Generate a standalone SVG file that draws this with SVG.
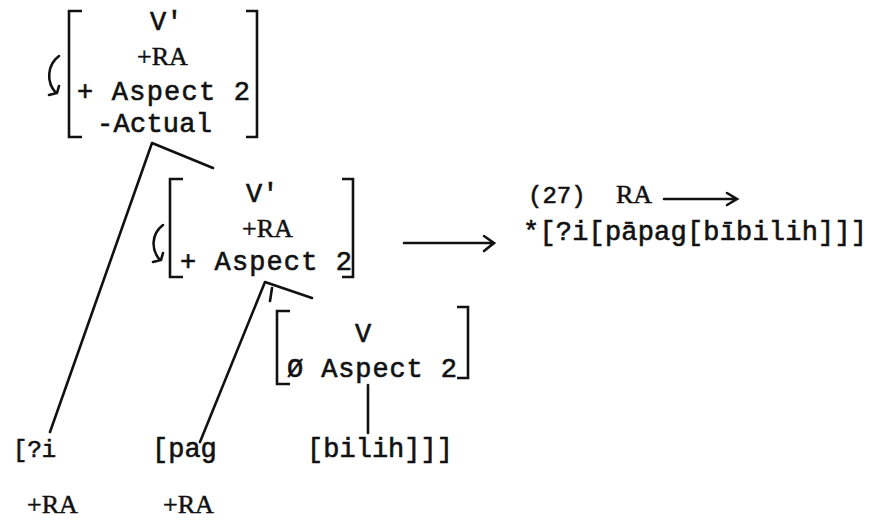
<svg xmlns="http://www.w3.org/2000/svg" width="889" height="520" viewBox="0 0 889 520">
<style>
.m{font-family:"Liberation Mono","Courier New",monospace;font-size:27px;fill:#111;stroke:#111;stroke-width:0.6}
.n{font-size:24px}
.s{font-family:"Liberation Serif","Times New Roman",serif;font-size:26px;fill:#111;stroke:#111;stroke-width:0.5}
.b{fill:none;stroke:#111;stroke-width:2.6;stroke-linejoin:miter}
.l{fill:none;stroke:#111;stroke-width:2.6;stroke-linecap:round}
</style>
<rect width="889" height="520" fill="#fff"/>
<g id="node-top">
<path class="b" d="M82,11 H69 V137 H82"/>
<path class="b" d="M246,11 H257 V137 H246"/>
<path class="l" d="M59,56 C47,65 46,82 56,93 M49,95 L57,93 L59,86"/>
<text class="m" x="150" y="30">V'</text>
<text class="s" x="137" y="65">+RA</text>
<text class="m" x="77" y="100" textLength="173" lengthAdjust="spacing">+ Aspect 2</text>
<text class="m" x="97" y="132" textLength="115" lengthAdjust="spacing">-Actual</text>
</g>
<g id="node-mid">
<path class="b" d="M183,179 H170 V277 H183"/>
<path class="b" d="M342,179 H353 V277 H342"/>
<path class="l" d="M163,225 C151,234 151,250 160,260 M153,262 L161,260 L163,253"/>
<text class="m" x="246" y="202">V'</text>
<text class="s" x="242" y="237">+RA</text>
<text class="m" x="180" y="270" textLength="172" lengthAdjust="spacing">+ Aspect 2</text>
</g>
<g id="node-v">
<path class="b" d="M290,311 H277 V384 H290"/>
<path class="b" d="M457,307 H468 V378 H457"/>
<text class="m" x="355" y="342">V</text>
<text class="m" x="287" y="377" textLength="170" lengthAdjust="spacing">Ø Aspect 2</text>
</g>
<g id="leaf-i">
<text class="m n" x="13" y="457">[?i</text>
<text class="s" x="27" y="513">+RA</text>
</g>
<g id="leaf-pag">
<text class="m" x="152" y="457">[pag</text>
<text class="s" x="163" y="513">+RA</text>
</g>
<g id="leaf-bilih">
<text class="m" x="307" y="457" textLength="146" lengthAdjust="spacing">[bilih]]]</text>
</g>
<g id="rule">
<text class="m n" x="528" y="203">(27)</text>
<text class="s" x="616" y="203">RA</text>
<text class="m" x="523" y="240" textLength="344" lengthAdjust="spacing">*[?i[pāpag[bībilih]]]</text>
</g>
<g id="connectors">
<path class="l" d="M152,143 L50,432 M152,143 L213,168"/>
<path class="l" d="M265,282 L200,442 M265,282 L312,298 M272,288 L270,301"/>
<path class="l" d="M368,385 L368,433"/>
<path class="l" d="M404,243 H493 M484,236 L494,243 L484,251"/>
<path class="l" d="M664,199 H736 M727,193 L737,199 L727,205"/>
</g>
</svg>
